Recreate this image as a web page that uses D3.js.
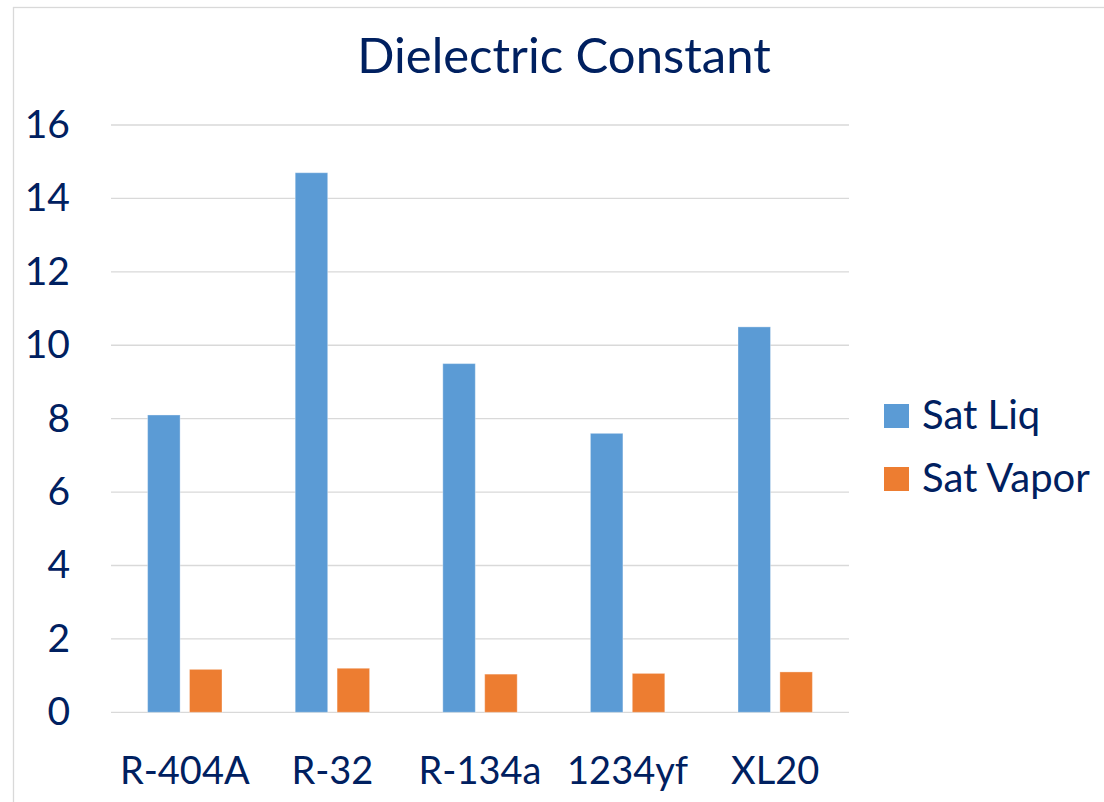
<!DOCTYPE html>
<html>
<head>
<meta charset="utf-8">
<script src="https://cdn.jsdelivr.net/npm/d3@7"></script>
<style>
  html, body { margin: 0; padding: 0; background: #fff; }
  svg { display: block; }
  text { font-family: Lato, "Open Sans", sans-serif; fill: #002060; }
</style>
</head>
<body>
<svg id="chart" width="1104" height="802"></svg>
<script>
const categories = ["R-404A", "R-32", "R-134a", "1234yf", "XL20"];
const seriesNames = ["Sat Liq", "Sat Vapor"];
const satLiq = [8.1, 14.7, 9.5, 7.6, 10.5];
const satVapor = [1.17, 1.2, 1.04, 1.06, 1.1];
const yTicks = [0, 2, 4, 6, 8, 10, 12, 14, 16];
const title = "Dielectric Constant";
const colors = ["#5B9BD5", "#ED7D31"];

const svg = d3.select("#chart");

// outer chart border
svg.append("rect")
  .attr("x", 13.5).attr("y", 7.5)
  .attr("width", 1200).attr("height", 900)
  .attr("fill", "#fff").attr("stroke", "#d9d9d9").attr("stroke-width", 1.3);

const plot = { left: 111, right: 849, top: 125, bottom: 712.3 };

const y = d3.scaleLinear().domain([0, 16]).range([plot.bottom, plot.top]);
const x0 = d3.scaleBand().domain(categories).range([plot.left, plot.right])
  .paddingInner(0.496).paddingOuter(0.248);
const x1 = d3.scaleBand().domain(seriesNames).range([0, x0.bandwidth()])
  .paddingInner(0.224).paddingOuter(0);

// gridlines
svg.append("g").selectAll("line").data(yTicks).join("line")
  .attr("x1", plot.left).attr("x2", plot.right)
  .attr("y1", d => y(d)).attr("y2", d => y(d))
  .attr("stroke", "#d9d9d9").attr("stroke-width", 1.3);

// y tick labels via axis
const yAxis = svg.append("g")
  .attr("transform", `translate(${plot.left},0)`)
  .call(d3.axisLeft(y).tickValues(yTicks).tickSize(0).tickPadding(41));
yAxis.select(".domain").remove();
yAxis.selectAll("text")
  .attr("font-size", 39)
  .attr("font-family", "Lato, 'Open Sans', sans-serif")
  .attr("fill", "#002060");

// x axis labels
const xAxis = svg.append("g")
  .attr("transform", `translate(0,${plot.bottom})`)
  .call(d3.axisBottom(x0.copy().paddingInner(0).paddingOuter(0)).tickSize(0).tickPadding(45));
xAxis.select(".domain").remove();
xAxis.selectAll("text")
  .attr("font-size", 38)
  .attr("font-family", "Lato, 'Open Sans', sans-serif")
  .attr("fill", "#002060");

// bars
const data = categories.map((c, i) => ({ cat: c, values: [satLiq[i], satVapor[i]] }));
const groups = svg.append("g").selectAll("g").data(data).join("g")
  .attr("transform", d => `translate(${x0(d.cat)},0)`);
groups.selectAll("rect")
  .data(d => d.values.map((v, j) => ({ name: seriesNames[j], v, j })))
  .join("rect")
  .attr("x", d => x1(d.name))
  .attr("width", x1.bandwidth())
  .attr("y", d => y(d.v))
  .attr("height", d => y(0) - y(d.v))
  .attr("fill", d => colors[d.j])
  .attr("stroke", "#ffffff").attr("stroke-opacity", 0.35).attr("stroke-width", 1);

// title
svg.append("text")
  .attr("x", 564).attr("y", 73)
  .attr("text-anchor", "middle")
  .attr("font-size", 49)
  .text(title);

// legend
const legend = svg.append("g").selectAll("g").data(seriesNames).join("g")
  .attr("transform", (d, i) => `translate(884,${404 + i * 63})`);
legend.append("rect")
  .attr("width", 25).attr("height", 24)
  .attr("fill", (d, i) => colors[i]);
legend.append("text")
  .attr("x", 38).attr("y", 25)
  .attr("font-size", 40)
  .text(d => d);
</script>
</body>
</html>
